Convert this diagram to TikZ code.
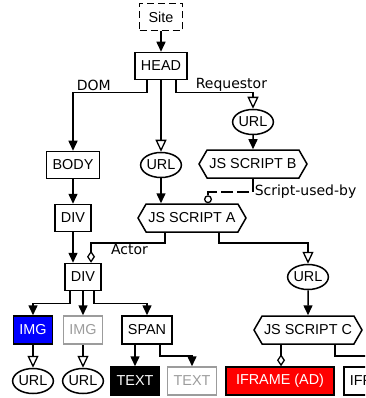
\documentclass[tikz,border=0pt]{standalone}
\usepackage{fontspec}
\setmainfont{Liberation Sans}
\newfontfamily\labelfont{DejaVu Sans}
\usetikzlibrary{arrows.meta,shapes.symbols,shapes.geometric}
\definecolor{greyline}{HTML}{9C9C9C}

\begin{document}
\begin{tikzpicture}
 [x=1pt, y=-1pt, line width=1.5pt,
  box node/.style={rectangle, draw, inner xsep=6pt, inner ysep=0pt, minimum height=27pt, font=\fontsize{14.4}{16}\selectfont},
  site node/.style={box node, dash pattern=on 7pt off 4pt, minimum width=43pt},
  url node/.style={ellipse, draw, inner sep=0pt, minimum width=40pt, minimum height=25pt, font=\fontsize{14.4}{16}\selectfont},
  script node/.style={signal, signal to=east and west, signal pointer angle=120, draw, inner sep=1pt, minimum width=108pt, minimum height=28pt, font=\fontsize{14.4}{16}\selectfont},
  img node/.style={box node, fill=blue, text=white, minimum height=28pt},
  grey node/.style={box node, draw=greyline, text=greyline, minimum height=28pt},
  black node/.style={box node, fill=black, text=white, minimum height=28pt},
  red node/.style={box node, fill=red, text=white, minimum height=28pt, minimum width=108pt},
  label node/.style={font=\labelfont\fontsize{14}{16}\selectfont, inner sep=1pt},
  solid arrow/.style={-{Triangle[length=10pt,width=9pt]}},
  open arrow/.style={-{Triangle[open,length=12pt,width=11pt,line width=1.3pt]}},
  diamond arrow/.style={-{Diamond[open,length=12pt,width=8pt,line width=1.3pt]}},
  ball arrow/.style={-{Circle[open,length=8pt,line width=1.3pt]}}]

\useasboundingbox (0,0) rectangle (365,398);
\clip (0,0) rectangle (365,398);

\node[site node] (site) at (161,17) {Site};
\node[box node] (head) [below of=site, node distance=49pt] {HEAD};

\node[url node] (urlr) [below of=head, node distance=56pt, xshift=92pt] {URL};
\node[script node] (jsb) [below of=urlr, node distance=42pt] {JS SCRIPT B};
\node[box node] (body) [below of=head, node distance=99pt, xshift=-88pt] {BODY};
\node[url node] (urlm) [below of=head, node distance=99pt] {URL};

\node[box node] (div1) [below of=body, node distance=53pt] {DIV};
\node[script node] (jsa) [below of=urlm, node distance=53pt, xshift=31pt] {JS SCRIPT A};

\node[box node] (div2) [below of=div1, node distance=59pt, xshift=10pt] {DIV};
\node[url node] (urlc) [below of=jsa, node distance=59pt, xshift=116pt] {URL};
\node[script node] (jsc) [below of=urlc, node distance=53pt] {JS SCRIPT C};

\node[img node] (img1) [below of=div2, node distance=53pt, xshift=-50pt] {IMG};
\node[grey node] (img2) [below of=div2, node distance=53pt] {IMG};
\node[box node, minimum height=28pt] (span) [below of=div2, node distance=53pt, xshift=64pt] {SPAN};

\node[url node] (url1) [below of=img1, node distance=51pt] {URL};
\node[url node] (url2) [below of=img2, node distance=51pt] {URL};
\node[black node] (text1) [below of=span, node distance=51pt, xshift=-12pt] {TEXT};
\node[grey node] (text2) [below of=span, node distance=51pt, xshift=45pt] {TEXT};
\node[red node] (ad) [below of=jsc, node distance=51pt, xshift=-28pt] {IFRAME (AD)};
\node[box node, minimum height=28pt] (frame) [right of=ad, node distance=97pt] {IFRAME};

% head and scripts
\draw[solid arrow] (site) -- (head);
\draw[solid arrow] ([xshift=-14pt]head.south) -- ++(0,12.5) -| node[label node, pos=0.36, above] {DOM} (body.north);
\draw[open arrow] (head) -- (urlm);
\draw[open arrow] ([xshift=15pt]head.south) -- ++(0,12.5) -| node[label node, pos=0.36, above] {Requestor} (urlr.north);
\draw[solid arrow] (urlr) -- (jsb);
\draw (jsb.south) -- ++(0,13) coordinate (used) node[label node, right] {Script-used-by};
\draw[ball arrow, line width=2.2pt, dash pattern=on 12pt off 4pt, dash phase=-4pt] (used) -| ([xshift=16pt]jsa.north);
\draw[solid arrow] (urlm) -- (urlm.south |- jsa.north);

% body side
\draw[solid arrow] (body) -- (div1);
\draw[solid arrow] (div1) -- (div1.south |- div2.north);
\draw[diamond arrow] ([xshift=-27pt]jsa.south) -- ++(0,10) -| node[label node, pos=0.24, below] {Actor} ([xshift=8pt]div2.north);
\draw[open arrow] ([xshift=27pt]jsa.south) -- ++(0,10) -| (urlc.north);
\draw[solid arrow] (urlc) -- (jsc);
\draw[diamond arrow] ([xshift=-27pt]jsc.south) -- ([xshift=-27pt]jsc.south |- ad.north);
\draw[solid arrow] ([xshift=27pt]jsc.south) -- ++(0,11) -| (frame.north);

% div children
\draw[solid arrow] ([xshift=-13pt]div2.south) -- ++(0,12) -| (img1.north);
\draw[solid arrow] (div2) -- (img2);
\draw[solid arrow] ([xshift=11pt]div2.south) -- ++(0,12) -| (span.north);
\draw[open arrow] (img1) -- (url1);
\draw[open arrow] (img2) -- (url2);
\draw[solid arrow] ([xshift=-12pt]span.south) -- ([xshift=-12pt]span.south |- text1.north);
\draw[solid arrow] ([xshift=13pt]span.south) -- ++(0,11) -| (text2.north);

\end{tikzpicture}
\end{document}
